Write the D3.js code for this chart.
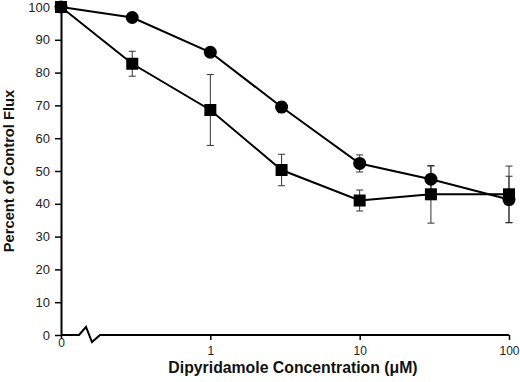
<!DOCTYPE html>
<html>
<head>
<meta charset="utf-8">
<script src="https://cdn.jsdelivr.net/npm/d3@7"></script>
<style>
  html, body { margin: 0; padding: 0; background: #fff; }
  svg { display: block; font-family: Arial, "Liberation Sans", sans-serif; }
</style>
</head>
<body>
<div id="chart"></div>
<script>
// concentrations in uM; 0 is drawn at the left end of the log axis (after the break)
const concentrations = [0, 0.3, 1, 3, 10, 30, 100];
const circleValues = [100, 96.8, 86.2, 69.5, 52.3, 47.5, 41.3];
const circleErrors = [0, 0.8, 0.8, 1.6, 2.6, 4.0, 7.1];
const squareValues = [100, 82.7, 68.6, 50.3, 41.0, 42.9, 42.9];
const squareErrors = [0, 3.8, 10.8, 4.8, 3.2, 8.8, 8.6];
const xTickValues = [0, 1, 10, 100];
const xTickLabels = ["0", "1", "10", "100"];
const yTickValues = [0, 10, 20, 30, 40, 50, 60, 70, 80, 90, 100];

const ZERO_POS = 0.1; // where "0" sits on the log scale

const width = 520, height = 382;
const margins = { top: 7, right: 11, bottom: 47, left: 61 };
const innerWidth = width - margins.left - margins.right;
const innerHeight = height - margins.top - margins.bottom;

const svg = d3.select("#chart").append("svg")
  .attr("width", width)
  .attr("height", height);

const g = svg.append("g")
  .attr("transform", `translate(${margins.left},${margins.top})`);

const xScale = d3.scaleLog().domain([ZERO_POS, 100]).range([0, innerWidth]);
const yScale = d3.scaleLinear().domain([0, 100]).range([innerHeight, 0]);
const xOf = (c) => xScale(c === 0 ? ZERO_POS : c);

// Y axis
const yAxisG = g.append("g")
  .call(d3.axisLeft(yScale).tickValues(yTickValues).tickSize(6).tickSizeOuter(0).tickPadding(5));
yAxisG.select(".domain").attr("stroke", "#000").attr("stroke-width", 2);
yAxisG.selectAll(".tick line").attr("stroke", "#000").attr("stroke-width", 1.5);
yAxisG.selectAll(".tick text").attr("font-size", "13px").attr("fill", "#222")
  .attr("font-family", "Arial, 'Liberation Sans', sans-serif");

// X axis (domain drawn by hand to include the break)
const xAxisG = g.append("g")
  .attr("transform", `translate(0,${innerHeight})`)
  .call(d3.axisBottom(xScale).tickValues(xTickValues.map((v) => v === 0 ? ZERO_POS : v))
    .tickFormat((d, i) => xTickLabels[i]).tickSize(5).tickSizeOuter(0).tickPadding(6));
xAxisG.select(".domain").remove();
xAxisG.selectAll(".tick line").attr("stroke", "#000").attr("stroke-width", 1.5);
xAxisG.selectAll(".tick text").attr("font-size", "12px").attr("fill", "#222")
  .attr("font-family", "Arial, 'Liberation Sans', sans-serif");
// the "0" label sits a little higher, under its short tick
xAxisG.select(".tick line").attr("y2", 3);
xAxisG.select(".tick text").attr("y", 3);

// axis line with a zigzag break just right of zero
const x0 = xScale(ZERO_POS);
const breakPath = d3.path();
breakPath.moveTo(x0, innerHeight);
breakPath.lineTo(x0 + 18, innerHeight);
breakPath.lineTo(x0 + 25, innerHeight - 8);
breakPath.lineTo(x0 + 31, innerHeight + 7);
breakPath.lineTo(x0 + 39, innerHeight);
breakPath.lineTo(xScale(100), innerHeight);
g.append("path")
  .attr("d", breakPath.toString())
  .attr("fill", "none")
  .attr("stroke", "#000")
  .attr("stroke-width", 2)
  .attr("stroke-linejoin", "miter");

// Axis titles
g.append("text")
  .attr("transform", "rotate(-90)")
  .attr("x", -innerHeight / 2)
  .attr("y", -47)
  .attr("text-anchor", "middle")
  .attr("font-size", "14.7px")
  .attr("font-weight", "bold")
  .attr("fill", "#111")
  .text("Percent of Control Flux");

g.append("text")
  .attr("x", 293 - margins.left)
  .attr("y", innerHeight + 38)
  .attr("text-anchor", "middle")
  .attr("font-size", "15.8px")
  .attr("font-weight", "bold")
  .attr("fill", "#111")
  .text("Dipyridamole Concentration (\u03bcM)");

const series = [
  { name: "circle", values: circleValues, errors: circleErrors },
  { name: "square", values: squareValues, errors: squareErrors },
];

const line = d3.line()
  .x((d) => xOf(d.c))
  .y((d) => yScale(d.v));

series.forEach((s) => {
  s.points = concentrations.map((c, i) => ({ c, v: s.values[i], e: s.errors[i] }));
});

// Error bars
const errG = g.append("g").attr("class", "errors");
series.forEach((s) => {
  s.points.filter((p) => p.e > 0).forEach((p) => {
    const x = xOf(p.c);
    const yTop = yScale(p.v + p.e);
    const yBot = yScale(p.v - p.e);
    errG.append("line").attr("x1", x).attr("x2", x).attr("y1", yTop).attr("y2", yBot)
      .attr("stroke", "#333").attr("stroke-width", 1);
    [yTop, yBot].forEach((y) => {
      errG.append("line").attr("x1", x - 3.5).attr("x2", x + 3.5).attr("y1", y).attr("y2", y)
        .attr("stroke", "#333").attr("stroke-width", 1);
    });
  });
});

// Lines
series.forEach((s) => {
  g.append("path")
    .attr("d", line(s.points))
    .attr("fill", "none")
    .attr("stroke", "#000")
    .attr("stroke-width", 2);
});

// Markers
g.append("g").selectAll("rect")
  .data(series[1].points)
  .join("rect")
  .attr("x", (d) => xOf(d.c) - 6)
  .attr("y", (d) => yScale(d.v) - 6)
  .attr("width", 12)
  .attr("height", 12)
  .attr("fill", "#000");

g.append("g").selectAll("circle")
  .data(series[0].points)
  .join("circle")
  .attr("cx", (d) => xOf(d.c))
  .attr("cy", (d) => yScale(d.v))
  .attr("r", 6.5)
  .attr("fill", "#000");
</script>
</body>
</html>
